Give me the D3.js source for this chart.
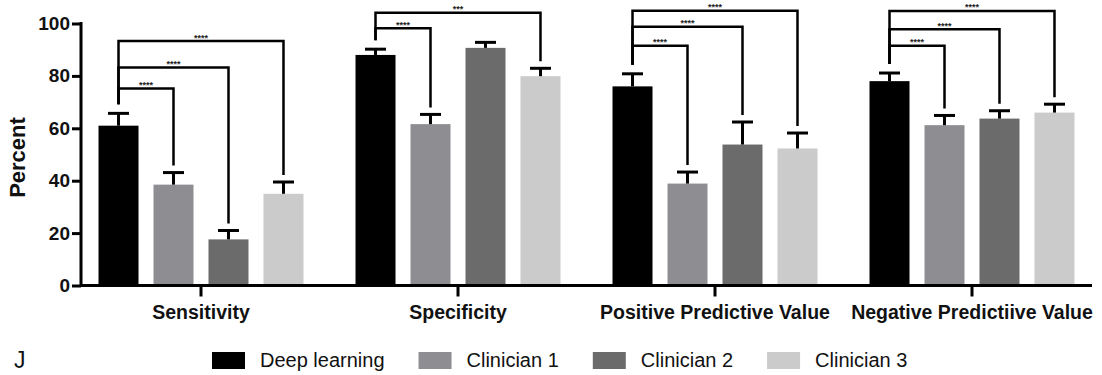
<!DOCTYPE html>
<html>
<head>
<meta charset="utf-8">
<script src="https://cdn.jsdelivr.net/npm/d3@7"></script>
<style>
    body { margin: 0; background: #fff; }
    svg { display: block; font-family: "Liberation Sans", Arial, sans-serif; }
</style>
</head>
<body>
<svg width="1102" height="375"></svg>
<script>
const categories = ["Sensitivity", "Specificity", "Positive Predictive Value", "Negative Predictiive Value"];
const groups = ["Deep learning", "Clinician 1", "Clinician 2", "Clinician 3"];

// mean percent per category, one array per group
const deepLearning = [61, 88, 76, 78];
const clinician1 = [38.5, 61.6, 38.9, 61.2];
const clinician2 = [17.6, 90.7, 53.8, 63.7];
const clinician3 = [35, 79.9, 52.3, 66];

// upper error bar length
const deepLearningErr = [4.7, 2.2, 4.8, 3.1];
const clinician1Err = [4.6, 3.7, 4.4, 3.7];
const clinician2Err = [3.4, 2.1, 8.6, 3.0];
const clinician3Err = [4.5, 3.0, 5.9, 3.2];

const yTicks = [0, 20, 40, 60, 80, 100];

// significance brackets: deep learning vs target group
const sigCategory = [0, 0, 0, 1, 1, 2, 2, 2, 3, 3, 3];
const sigTarget = [1, 2, 3, 1, 3, 1, 2, 3, 1, 2, 3];
const sigLevel = [75.2, 83.2, 93.3, 98.2, 104.1, 91.5, 98.8, 104.9, 91.5, 97.8, 104.8];
const sigLabel = ["****", "****", "****", "****", "***", "****", "****", "****", "****", "****", "****"];

const colors = ["#000000", "#8e8e92", "#6b6b6b", "#cbcbcb"];

const values = [deepLearning, clinician1, clinician2, clinician3];
const errors = [deepLearningErr, clinician1Err, clinician2Err, clinician3Err];

const svg = d3.select("svg");

const x0 = d3.scaleBand().domain(categories).range([72.5, 1100.5]);
const x1 = d3.scaleBand()
    .domain(groups)
    .range([0, x0.bandwidth()])
    .paddingInner(0.2727)
    .paddingOuter(0.473);
const y = d3.scaleLinear().domain([0, 100]).range([285.5, 23.5]);

const axisLeftX = 81;
const axisRightX = 1092;

// bars
const barData = [];
categories.forEach((c, ci) => 
{
    groups.forEach((g, gi) => 
    {
        barData.push({ c, g, gi, v: values[gi][ci], e: errors[gi][ci] });
    });
});

const bars = svg.append("g");

bars.selectAll("rect")
    .data(barData)
    .join("rect")
    .attr("x", d => x0(d.c) + x1(d.g))
    .attr("y", d => y(d.v))
    .attr("width", x1.bandwidth())
    .attr("height", d => y(0) - y(d.v))
    .attr("fill", d => colors[d.gi]);

// error bars (upper only)
const err = svg.append("g").attr("stroke", "#000").attr("stroke-width", 3).attr("fill", "none");
const cx = d => x0(d.c) + x1(d.g) + x1.bandwidth() / 2;

err.selectAll("line.v")
    .data(barData)
    .join("line")
    .attr("class", "v")
    .attr("x1", cx)
    .attr("x2", cx)
    .attr("y1", d => y(d.v))
    .attr("y2", d => y(d.v + d.e));

err.selectAll("line.cap")
    .data(barData)
    .join("line")
    .attr("class", "cap")
    .attr("x1", d => cx(d) - 10.5)
    .attr("x2", d => cx(d) + 10.5)
    .attr("y1", d => y(d.v + d.e))
    .attr("y2", d => y(d.v + d.e));

// axes
const yAxis = svg.append("g")
    .attr("transform", `translate(${axisLeftX},0)`)
    .call(d3.axisLeft(y).tickValues(yTicks).tickSize(9).tickPadding(2));

yAxis.select(".domain").remove();
yAxis.selectAll(".tick line").attr("stroke", "#000").attr("stroke-width", 3);
yAxis.selectAll(".tick text")
    .attr("fill", "#111")
    .style("font-size", "19px")
    .style("font-weight", "bold");

svg.append("line")
    .attr("x1", axisLeftX)
    .attr("x2", axisLeftX)
    .attr("y1", y(100) - 1.5)
    .attr("y2", y(0) + 1.5)
    .attr("stroke", "#000")
    .attr("stroke-width", 3);

const xAxis = svg.append("g")
    .attr("transform", `translate(0,${y(0)})`)
    .call(d3.axisBottom(x0).tickSize(11).tickPadding(5));

xAxis.select(".domain").remove();
xAxis.selectAll(".tick line").attr("stroke", "#000").attr("stroke-width", 3);
xAxis.selectAll(".tick text")
    .attr("fill", "#111")
    .attr("dy", "0.9em")
    .style("font-size", "19.5px")
    .style("font-weight", "bold");

svg.append("line")
    .attr("x1", axisLeftX)
    .attr("x2", axisRightX)
    .attr("y1", y(0))
    .attr("y2", y(0))
    .attr("stroke", "#000")
    .attr("stroke-width", 3);

svg.append("text")
    .attr("transform", `translate(25,${(y(0) + y(100)) / 2 + 3}) rotate(-90)`)
    .attr("text-anchor", "middle")
    .attr("fill", "#111")
    .style("font-size", "22px")
    .style("font-weight", "bold")
    .text("Percent");

// significance brackets
const sig = svg.append("g");

sigCategory.forEach((ci, i) => 
{
    const c = categories[ci];
    const gt = groups[sigTarget[i]];
    const xa = x0(c) + x1(groups[0]) + x1.bandwidth() / 2;
    const xb = x0(c) + x1(gt) + x1.bandwidth() / 2;
    const yl = y(sigLevel[i]);
    const ya = y(deepLearning[ci] + deepLearningErr[ci]) - 9;
    const yb = y(values[sigTarget[i]][ci] + errors[sigTarget[i]][ci]) - 7;

    sig.append("path")
        .attr("d", `M${xa},${ya}V${yl}H${xb}V${yb}`)
        .attr("fill", "none")
        .attr("stroke", "#000")
        .attr("stroke-width", 2.5);

    sig.append("text")
        .attr("x", (xa + xb) / 2)
        .attr("y", yl - 0.5)
        .attr("text-anchor", "middle")
        .attr("fill", "#222")
        .style("font-size", "9px")
        .style("font-weight", "bold")
        .text(sigLabel[i]);
});

// legend
svg.append("text")
    .attr("x", 14)
    .attr("y", 368)
    .attr("fill", "#111")
    .style("font-size", "23px")
    .text("J");

const legend = svg.append("g");
let lx = 212;

groups.forEach((g, gi) => 
{
    legend.append("rect")
        .attr("x", lx)
        .attr("y", 352)
        .attr("width", 33)
        .attr("height", 17)
        .attr("fill", colors[gi]);

    const t = legend.append("text")
        .attr("x", lx + 48)
        .attr("y", 367)
        .attr("fill", "#111")
        .style("font-size", "20px")
        .text(g);

    lx += 48 + t.node().getComputedTextLength() + 34;
});
</script>
</body>
</html>
